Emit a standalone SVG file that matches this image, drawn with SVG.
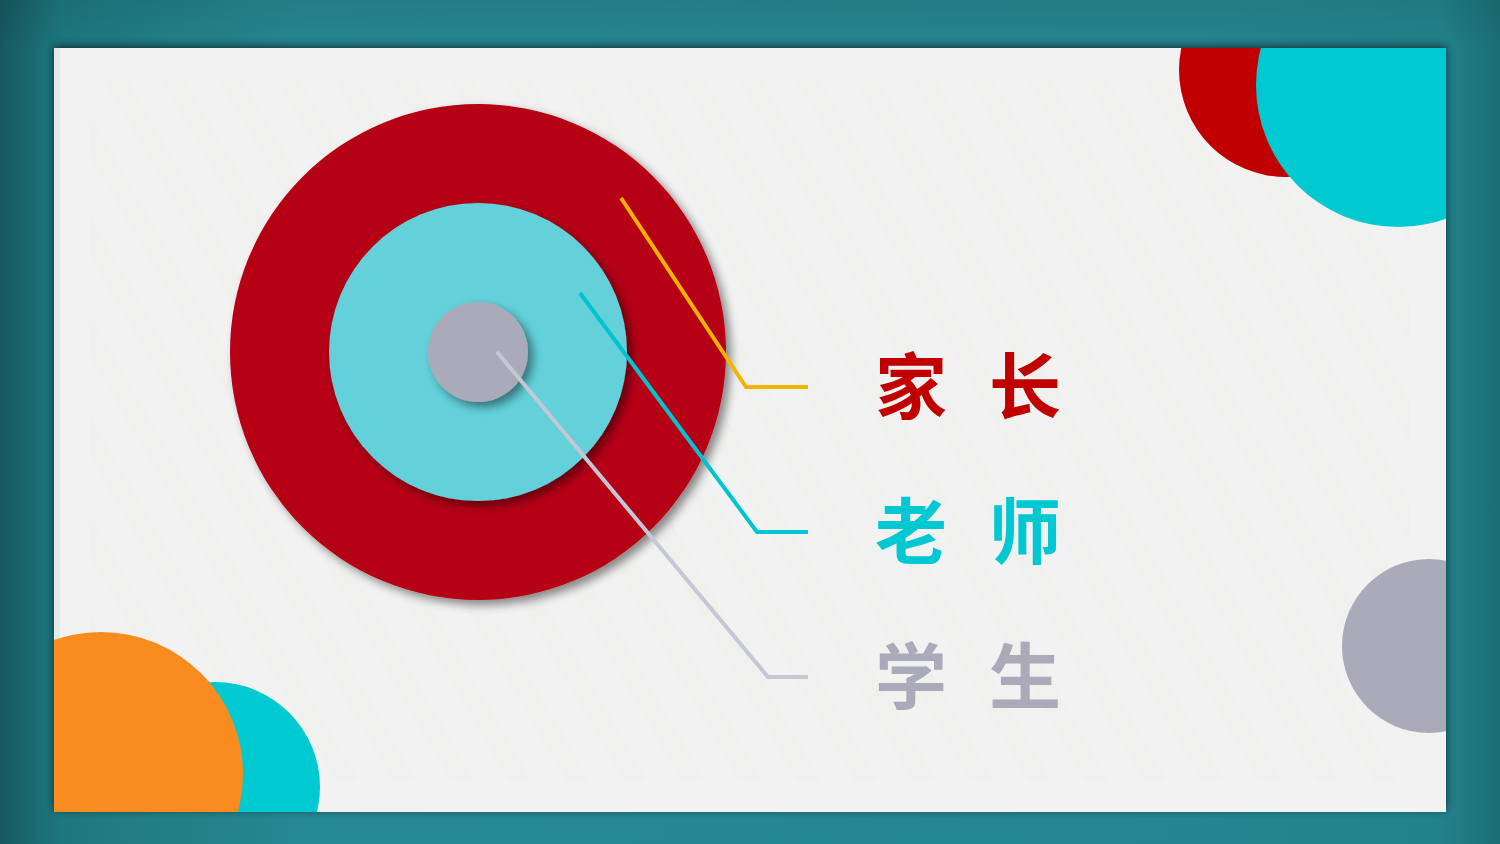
<svg xmlns="http://www.w3.org/2000/svg" width="1500" height="844" viewBox="0 0 1500 844">
<defs>
<linearGradient id="frameH" x1="0" y1="0" x2="1" y2="0">
<stop offset="0" stop-color="#165860"/>
<stop offset="0.04" stop-color="#1E777E"/>
<stop offset="0.2" stop-color="#268893"/>
<stop offset="0.8" stop-color="#258691"/>
<stop offset="0.96" stop-color="#22828C"/>
<stop offset="1" stop-color="#1B6E75"/>
</linearGradient>
<linearGradient id="frameV" x1="0" y1="0" x2="0" y2="1">
<stop offset="0" stop-color="#000" stop-opacity="0.08"/>
<stop offset="0.06" stop-color="#000" stop-opacity="0"/>
<stop offset="1" stop-color="#000" stop-opacity="0"/>
</linearGradient>
<pattern id="stripes" width="50" height="60" patternUnits="userSpaceOnUse" patternTransform="rotate(-30)">
<rect width="50" height="60" fill="#F2F2F2"/>
<rect width="20" height="60" fill="#EEEEEC"/>
</pattern>
<filter id="sh" x="-20%" y="-20%" width="150%" height="150%">
<feGaussianBlur in="SourceAlpha" stdDeviation="5"/>
<feOffset dx="5" dy="5" result="b"/>
<feComponentTransfer><feFuncA type="linear" slope="0.45"/></feComponentTransfer>
<feMerge><feMergeNode/><feMergeNode in="SourceGraphic"/></feMerge>
</filter>
<filter id="psh" x="-5%" y="-5%" width="110%" height="110%">
<feGaussianBlur in="SourceAlpha" stdDeviation="4"/>
<feOffset dx="0" dy="-2"/>
<feComponentTransfer><feFuncA type="linear" slope="0.6"/></feComponentTransfer>
<feMerge><feMergeNode/><feMergeNode in="SourceGraphic"/></feMerge>
</filter>
<clipPath id="panel"><rect x="54" y="48" width="1392" height="764"/></clipPath>
<style>
.lbl{font-family:"Noto Sans CJK SC","Noto Sans",sans-serif;font-weight:bold;font-size:72px}
.con{fill:none;stroke-width:4;stroke-linejoin:miter}
</style>
</defs>
<rect width="1500" height="844" fill="url(#frameH)"/>
<rect width="1500" height="844" fill="url(#frameV)"/>
<g id="panel-bg" filter="url(#psh)">
<rect x="54" y="48" width="1392" height="764" fill="#F2F2F2"/>
</g>
<rect x="90" y="80" width="1320" height="700" fill="url(#stripes)" opacity="0.5"/>
<rect x="54" y="48" width="6" height="764" fill="#E6E8EA"/>
<g clip-path="url(#panel)">
<g id="deco-topright">
<circle cx="1286" cy="70" r="107" fill="#C00000"/>
<circle cx="1398" cy="85" r="142" fill="#00C9D2"/>
</g>
<g id="deco-bottomleft">
<circle cx="215" cy="787" r="105" fill="#00C9D2"/>
<circle cx="101" cy="774" r="142" fill="#F98C1E"/>
</g>
<g id="deco-right">
<circle cx="1429" cy="646" r="87" fill="#ABAAB8"/>
</g>
</g>
<g id="target">
<circle cx="478" cy="352" r="248" fill="#B50012" filter="url(#sh)"/>
<circle cx="478" cy="352" r="149" fill="#63D0DA" filter="url(#sh)"/>
<circle cx="478" cy="352" r="50" fill="#ABAAB8" filter="url(#sh)"/>
</g>
<g id="connectors">
<polyline class="con" stroke="#F2B400" points="621,198 746,387 808,387"/>
<polyline class="con" stroke="#00C4D0" points="580,293 757,532 808,532"/>
<polyline class="con" stroke="#C5C8D4" points="497,352 768,677 808,677"/>
</g>
<g id="label-parents">
<text class="lbl" fill="#C00000" x="875 946 989" y="413">家 长</text>
</g>
<g id="label-teachers">
<text class="lbl" fill="#00C8D2" x="875 946 989" y="558">老 师</text>
</g>
<g id="label-students">
<text class="lbl" fill="#ABAAB8" x="875 946 989" y="703">学 生</text>
</g>
</svg>
